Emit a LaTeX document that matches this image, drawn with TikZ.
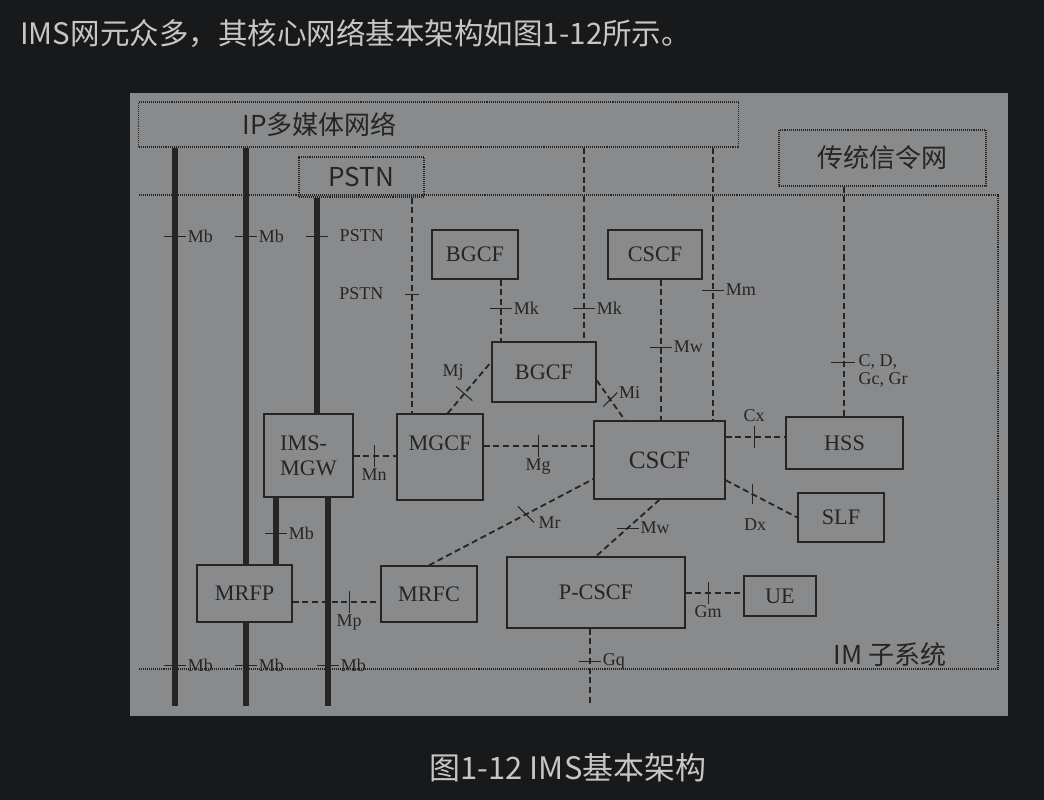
\documentclass[tikz,border=0pt]{standalone}
\usepackage{fontspec}
\setmainfont{Liberation Serif}
\newfontfamily\cjk{Noto Sans CJK SC}
\usepackage{tikz}
\usetikzlibrary{calc}
\definecolor{pagebg}{HTML}{18191B}
\definecolor{figbg}{HTML}{898A8C}
\definecolor{ink}{HTML}{252525}
\definecolor{capink}{HTML}{C9C6C1}

\begin{document}
\begin{tikzpicture}[x=0.025cm, y=-0.025cm,
	boxtxt/.style={font=\fontsize{15.8}{17.8}\selectfont, text=ink, inner sep=0pt},
	box/.style={boxtxt, draw=ink, line width=1pt},
	nettxt/.style={font=\cjk\fontsize{18.5}{20}\selectfont, text=ink, inner sep=0pt},
	dotline/.style={draw=ink, line width=0.8pt, dash pattern=on 0.7pt off 0.7pt},
	net/.style={nettxt, dotline},
	bus/.style={ink, line width=4.3pt},
	sig/.style={ink, line width=1.3pt, dash pattern=on 4.3pt off 2.6pt},
	tk/.style={ink, line width=0.7pt},
	lbl/.style={font=\fontsize{12.8}{13}\selectfont, text=ink, inner sep=1pt}]

	\fill[pagebg] (0,0) rectangle (1044,800);
	\useasboundingbox (0,0) rectangle (1044,800);
	\fill[figbg] (130,93) rectangle (1008,716);

	\node[anchor=west, text=capink, font=\cjk\fontsize{21}{24}\selectfont, inner sep=0pt] (title) at (20,33) {IMS网元众多，其核心网络基本架构如图1-12所示。};
	\node[text=capink, font=\cjk\fontsize{22}{24}\selectfont, inner sep=0pt] (caption) at (568,768) {图1-12 IMS基本架构};

	\node[net, minimum width=14.975cm, minimum height=1.125cm, label={[nettxt, anchor=west, xshift=2.6cm]west:IP多媒体网络}] (IPnet) at (438.5,124.5) {};
	\node[net, minimum width=3.125cm, minimum height=1cm] (PSTNnet) at (361.5,177) {PSTN};
	\node[net, minimum width=5.175cm, minimum height=1.4cm] (SIGnet) at (882.5,158) {传统信令网};
	\draw[dotline] (139,195) -- (998,195) -- (998,669) -- (139,669);
	\node[nettxt, anchor=base] (IMsub) at (890,664) {IM 子系统};

	\node[box, minimum width=2.15cm, minimum height=1.225cm] (BGCFa) at (475,254.5) {BGCF};
	\node[box, minimum width=2.35cm, minimum height=1.225cm] (CSCFa) at (655,254.5) {CSCF};
	\node[box, minimum width=2.6cm, minimum height=1.5cm] (BGCFb) at (544,372) {BGCF};
	\node[box, minimum width=2.225cm, minimum height=2.075cm, align=left] (MGW) at (308.5,455.5) {IMS-\\MGW};
	\node[box, minimum width=2.15cm, minimum height=2.15cm, label={[boxtxt, anchor=north, yshift=-0.55cm]north:MGCF}] (MGCF) at (440,457) {};
	\node[box, font=\fontsize{17.8}{19}\selectfont, minimum width=3.275cm, minimum height=1.95cm] (CSCF) at (659.5,460) {CSCF};
	\node[box, line width=1.6pt, minimum width=2.925cm, minimum height=1.3cm] (HSS) at (844.5,443) {HSS};
	\node[box, minimum width=2.15cm, minimum height=1.225cm] (SLF) at (841,517.5) {SLF};
	\node[box, minimum width=2.375cm, minimum height=1.425cm] (MRFP) at (244.5,593.5) {MRFP};
	\node[box, minimum width=2.4cm, minimum height=1.4cm] (MRFC) at (429,594) {MRFC};
	\node[box, minimum width=4.45cm, minimum height=1.775cm] (PCSCF) at (596,592.5) {P-CSCF};
	\node[box, line width=1.4pt, minimum width=1.8cm, minimum height=1cm] (UE) at (780,596) {UE};

	\coordinate (tMbA) at (175,236);
	\coordinate (tMbB) at (246,236);
	\coordinate (tPa) at (317,236);
	\coordinate (tPb) at (412,294);
	\coordinate (tMk1) at (501,308);
	\coordinate (tMk2) at (584,308);
	\coordinate (tMm) at (713,290);
	\coordinate (tMw1) at (661,347);
	\coordinate (tCD) at (844,362);
	\coordinate (tMbC) at (276,533);
	\coordinate (tMn) at (374,456);
	\coordinate (tMg) at (538,446);
	\coordinate (tCx) at (754,437);
	\coordinate (tMp) at (349,602);
	\coordinate (tGm) at (708,593);
	\coordinate (tGq) at (590,661);
	\coordinate (endA) at (175,706);
	\coordinate (endB) at (246,706);
	\coordinate (endC) at (328,706);
	\coordinate (endQ) at (590,703);

	\draw[bus] (IPnet.south -| endA) -- (endA);
	\draw[bus] (IPnet.south -| endB) -- (MRFP.north -| endB);
	\draw[bus] (MRFP.south -| endB) -- (endB);
	\draw[bus] (PSTNnet.south -| tPa) -- (MGW.north -| tPa);
	\draw[bus] (MGW.south -| tMbC) -- (MRFP.north -| tMbC);
	\draw[bus] (MGW.south -| endC) -- (endC);

	\draw[sig] (PSTNnet.south -| tPb) -- (MGCF.north -| tPb);
	\draw[sig] (BGCFa.south -| tMk1) -- (BGCFb.north -| tMk1);
	\draw[sig] (IPnet.south -| tMk2) -- (BGCFb.north -| tMk2);
	\draw[sig] (IPnet.south -| tMm) -- (CSCF.north -| tMm);
	\draw[sig] (CSCFa.south -| tMw1) -- (CSCF.north -| tMw1);
	\draw[sig] (SIGnet.south -| tCD) -- (HSS.north -| tCD);
	\draw[sig] (MGW.east |- tMn) -- (MGCF.west |- tMn);
	\draw[sig] (MGCF.east |- tMg) -- (CSCF.west |- tMg);
	\draw[sig] (CSCF.east |- tCx) -- (HSS.west |- tCx);
	\draw[sig] (MRFP.east |- tMp) -- (MRFC.west |- tMp);
	\draw[sig] (PCSCF.east |- tGm) -- (UE.west |- tGm);
	\draw[sig] (PCSCF.south -| tGq) -- (endQ);
	\draw[sig] (MGCF.80) -- coordinate[pos=.38] (tMj) (BGCFb.169);
	\draw[sig] (BGCFb.-9) -- coordinate[pos=.48] (tMi) (CSCF.131);
	\draw[sig] (MRFC.north) -- coordinate[pos=.59] (tMr) (CSCF.196);
	\draw[sig] (CSCF.south) -- coordinate[pos=.5] (tMw2) (PCSCF.north);
	\draw[sig] (CSCF.-17) -- coordinate[pos=.38] (tDx) (SLF.west);

	\foreach \tpos/\name/\txt in {tMbA/lMbA/Mb, tMbB/lMbB/Mb, tMk1/lMk1/Mk, tMk2/lMk2/Mk, tMm/lMm/Mm, tMw1/lMw1/Mw, tMbC/lMbC/Mb, tMw2/lMw2/Mw, tGq/lGq/Gq} {
		\draw[tk] ($(\tpos)+(-11,0)$) -- ($(\tpos)+(11,0)$) node[lbl, right] (\name) {\txt};
	}
	\foreach \x/\name in {175/lMbD, 246/lMbE, 328/lMbF} {
		\draw[tk] (\x-11,665) -- (\x+11,665) node[lbl, right] (\name) {Mb};
	}
	\foreach \tpos/\name/\txt in {tMn/lMn/Mn, tMg/lMg/Mg, tMp/lMp/Mp, tGm/lGm/Gm} {
		\draw[tk] ($(\tpos)+(0,-11)$) -- ($(\tpos)+(0,11)$) node[lbl, below] (\name) {\txt};
	}
	\draw[tk] ($(tPa)+(-11,0)$) -- ($(tPa)+(11,0)$) node[lbl, right, xshift=7pt] (lPa) {PSTN};
	\draw[tk] ($(tPb)+(7,0)$) -- ($(tPb)+(-7,0)$) node[lbl, left, xshift=-14pt] (lPb) {PSTN};
	\draw[tk] ($(tCD)+(-13,0)$) -- ($(tCD)+(11,0)$);
		\node[lbl, anchor=north west, align=left] (lCD) at (857,353) {C, D,\\Gc, Gr};
	\draw[tk] ($(tCx)+(0,11)$) -- ($(tCx)+(0,-11)$) node[lbl, above, yshift=2pt] (lCx) {Cx};
	\draw[tk] ($(tDx)+(0,-10)$) -- ($(tDx)+(0,10)$);
		\node[lbl] (lDx) at (755,525) {Dx};
	\draw[tk] ($(tMj)+(-8,-7)$) -- ($(tMj)+(8,7)$);
		\node[lbl] (lMj) at (453,372) {Mj};
	\draw[tk] ($(tMi)+(-7,7)$) -- ($(tMi)+(7,-7)$) node[lbl, right] (lMi) {Mi};
	\draw[tk] ($(tMr)+(-8,-8)$) -- ($(tMr)+(8,8)$) node[lbl, right, xshift=2pt] (lMr) {Mr};

\end{tikzpicture}
\end{document}
